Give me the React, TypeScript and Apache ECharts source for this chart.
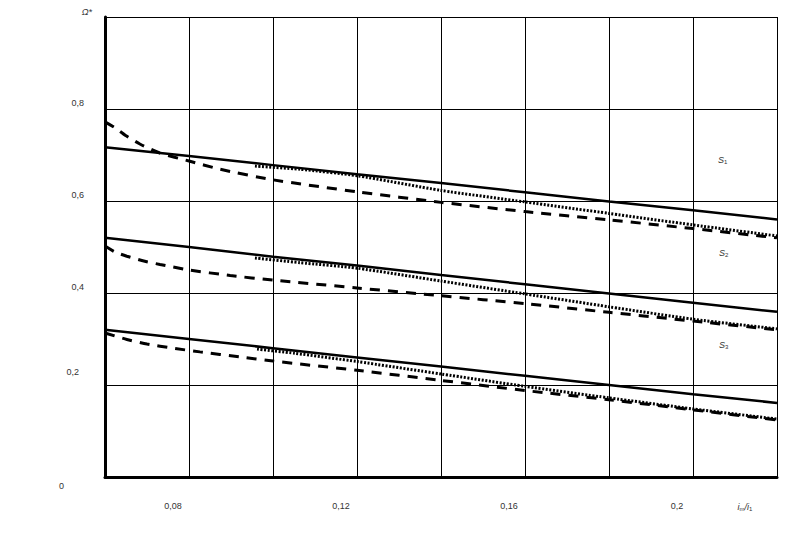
import React, { useEffect, useRef } from "react";
import * as echarts from "echarts";

// ---- data ----
const gridX = [0.06, 0.08, 0.1, 0.12, 0.14, 0.16, 0.18, 0.2, 0.22];

const s1Solid = [0.717, 0.698, 0.678, 0.658, 0.639, 0.619, 0.599, 0.58, 0.56];
const s2Solid = [0.52, 0.5, 0.479, 0.46, 0.439, 0.419, 0.399, 0.379, 0.359];
const s3Solid = [0.32, 0.3, 0.28, 0.26, 0.24, 0.22, 0.2, 0.18, 0.161];

const s1DashedX = [0.06, 0.0624, 0.0648, 0.0683, 0.0731, 0.08, 0.0874, 0.1, 0.12, 0.14, 0.16, 0.18, 0.2, 0.22];
const s1Dashed = [0.772, 0.759, 0.743, 0.724, 0.704, 0.687, 0.669, 0.646, 0.62, 0.597, 0.577, 0.559, 0.54, 0.52];

const s2DashedX = [0.06, 0.0624, 0.0652, 0.069, 0.0731, 0.08, 0.0898, 0.1, 0.12, 0.14, 0.16, 0.18, 0.2, 0.22];
const s2Dashed = [0.502, 0.489, 0.48, 0.47, 0.462, 0.45, 0.438, 0.428, 0.411, 0.394, 0.377, 0.358, 0.339, 0.32];

const s3DashedX = [0.06, 0.0652, 0.07, 0.0762, 0.0826, 0.0921, 0.1, 0.12, 0.14, 0.16, 0.18, 0.2, 0.22];
const s3Dashed = [0.313, 0.299, 0.289, 0.28, 0.272, 0.261, 0.252, 0.232, 0.21, 0.188, 0.168, 0.146, 0.124];

const s1DottedX = [0.0957, 0.1064, 0.12, 0.14, 0.16, 0.18, 0.2, 0.22];
const s1Dotted = [0.676, 0.669, 0.655, 0.623, 0.598, 0.573, 0.548, 0.524];

const s2DottedX = [0.0957, 0.1064, 0.12, 0.14, 0.16, 0.18, 0.2, 0.22];
const s2Dotted = [0.476, 0.466, 0.454, 0.426, 0.398, 0.37, 0.343, 0.322];

const s3DottedX = [0.0962, 0.1052, 0.12, 0.14, 0.16, 0.18, 0.2, 0.22];
const s3Dotted = [0.278, 0.269, 0.251, 0.224, 0.197, 0.172, 0.148, 0.126];

const xLabelValues = [0.08, 0.12, 0.16, 0.2];
const xLabelTexts = ["0,08", "0,12", "0,16", "0,2"];
const yLabelValues = [0, 0.2, 0.4, 0.6, 0.8];
const yLabelTexts = ["0", "0,2", "0,4", "0,6", "0,8"];

const curveNames = ["S1", "S2", "S3"];

const TXT = "#333";
const FONT = "Liberation Sans";

function pairs(xs: number[], ys: number[]) {
  return xs.map((x, i) => [x, ys[i]]);
}

export default function App() {
  const ref = useRef<HTMLDivElement>(null);

  useEffect(() => {
    if (!ref.current) return;
    const chart = echarts.init(ref.current, null, { renderer: "svg" });

    const solid = (name: string, data: number[][]) => ({
      name,
      type: "line",
      data,
      symbol: "none",
      lineStyle: { color: "#000", width: 2.5, type: "solid" },
      z: 3,
    });
    const dashed = (name: string, data: number[][]) => ({
      name,
      type: "line",
      data,
      symbol: "none",
      smooth: 0.2,
      lineStyle: { color: "#000", width: 3, type: [10, 8], cap: "butt" },
      z: 4,
    });
    const dotted = (name: string, data: number[][]) => ({
      name,
      type: "line",
      data,
      symbol: "none",
      smooth: 0.2,
      lineStyle: { color: "#000", width: 3, type: [2, 1.6], cap: "butt" },
      z: 5,
    });

    const labelPos = [
      [718, 160],
      [719, 253],
      [719, 345],
    ];

    chart.setOption({
      animation: false,
      backgroundColor: "#fff",
      textStyle: { fontFamily: FONT },
      grid: { left: 105, top: 17, right: 32, bottom: 78, outerBoundsMode: "none" },
      xAxis: {
        type: "value",
        min: 0.06,
        max: 0.22,
        interval: 0.02,
        name: "{i|i}{sub|m}{i|/i}{sub|1}",
        nameLocation: "end",
        nameGap: -32,
        nameTextStyle: {
          align: "center",
          verticalAlign: "middle",
          padding: [60, 0, 0, 0],
          color: TXT,
          rich: {
            i: { fontSize: 9, color: TXT, fontFamily: FONT, fontStyle: "italic" },
            sub: { fontSize: 6, color: TXT, fontFamily: FONT, verticalAlign: "bottom", padding: [4, 0, 0, 0] },
          },
        },
        axisLine: { show: true, onZero: false, lineStyle: { color: "#000", width: 3 } },
        axisTick: { show: false },
        splitLine: { show: true, lineStyle: { color: "#000", width: 1 } },
        axisLabel: {
          margin: 24,
          fontSize: 9,
          color: TXT,
          fontFamily: FONT,
          padding: [0, 32, 0, 0],
          formatter: (v: number) => {
            const idx = xLabelValues.findIndex((t) => Math.abs(t - v) < 1e-6);
            return idx >= 0 ? xLabelTexts[idx] : "";
          },
        },
      },
      yAxis: {
        type: "value",
        min: 0,
        max: 1,
        interval: 0.2,
        name: "Ω*",
        nameLocation: "end",
        nameGap: 5,
        nameTextStyle: {
          align: "right",
          verticalAlign: "middle",
          padding: [0, 13, 0, 0],
          fontSize: 9,
          color: TXT,
          fontStyle: "italic",
          fontFamily: FONT,
        },
        axisLine: { show: true, onZero: false, lineStyle: { color: "#000", width: 3 } },
        axisTick: { show: false },
        splitLine: { show: true, lineStyle: { color: "#000", width: 1 } },
        axisLabel: {
          margin: 21,
          color: TXT,
          fontSize: 9,
          fontFamily: FONT,
          formatter: (v: number) => {
            const idx = yLabelValues.findIndex((t) => Math.abs(t - v) < 1e-6);
            if (idx < 0) return "";
            const t = yLabelTexts[idx];
            if (idx === 0) return "{c|" + t + "}";
            if (idx === 1) return "{b|" + t + "}";
            return "{a|" + t + "}";
          },
          rich: {
            a: { fontSize: 9, color: TXT, fontFamily: FONT, padding: [0, 0, 12, 0] },
            b: { fontSize: 9, color: TXT, fontFamily: FONT, padding: [0, 5, 26, 0] },
            c: { fontSize: 9, color: TXT, fontFamily: FONT, padding: [18, 20, 0, 0] },
          },
        },
      },
      graphic: curveNames.map((n, i) => ({
        type: "text",
        x: labelPos[i][0],
        y: labelPos[i][1],
        style: {
          text: "{s|" + n.charAt(0) + "}{sub|" + n.slice(1) + "}",
          verticalAlign: "middle",
          rich: {
            s: { fontSize: 9, fill: TXT, fontFamily: FONT, fontStyle: "italic" },
            sub: { fontSize: 6, fill: TXT, fontFamily: FONT, padding: [4, 0, 0, 0] },
          },
        },
      })),
      series: [
        solid("S1 solid", pairs(gridX, s1Solid)),
        dashed("S1 dashed", pairs(s1DashedX, s1Dashed)),
        dotted("S1 dotted", pairs(s1DottedX, s1Dotted)),
        solid("S2 solid", pairs(gridX, s2Solid)),
        dashed("S2 dashed", pairs(s2DashedX, s2Dashed)),
        dotted("S2 dotted", pairs(s2DottedX, s2Dotted)),
        solid("S3 solid", pairs(gridX, s3Solid)),
        dashed("S3 dashed", pairs(s3DashedX, s3Dashed)),
        dotted("S3 dotted", pairs(s3DottedX, s3Dotted)),
      ],
    });

    return () => chart.dispose();
  }, []);

  return (
    <div
      ref={ref}
      style={{ position: "absolute", left: 0, top: 0, width: 809, height: 555 }}
    />
  );
}
